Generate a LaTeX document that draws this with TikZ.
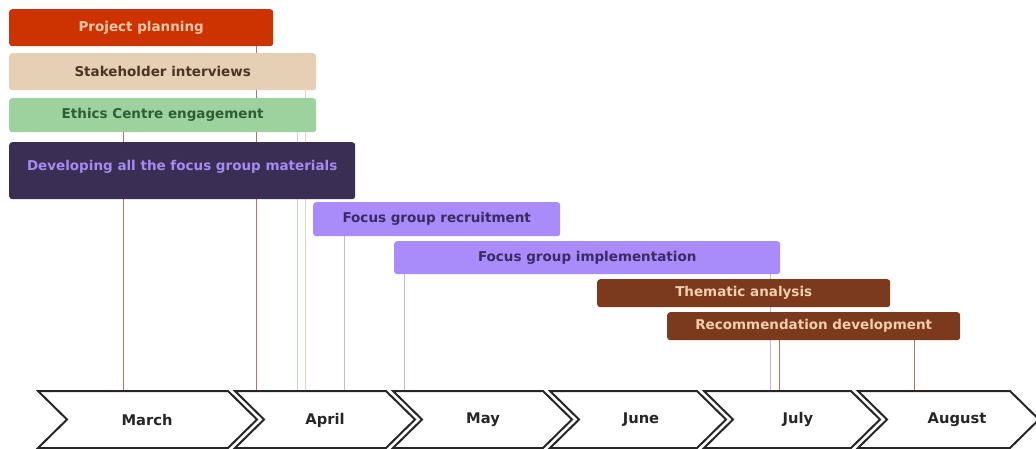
\documentclass[tikz,border=0pt]{standalone}
\usepackage{fontspec}
\setmainfont{DejaVu Sans}
\usetikzlibrary{backgrounds}

\definecolor{planfill}{HTML}{CC3300}
\definecolor{planfg}{HTML}{F6C7A6}
\definecolor{stakefill}{HTML}{E5D0B6}
\definecolor{stakefg}{HTML}{4A3522}
\definecolor{ethicsfill}{HTML}{9DD19E}
\definecolor{ethicsfg}{HTML}{2E5E38}
\definecolor{devfill}{HTML}{3A2E55}
\definecolor{devfg}{HTML}{A58BF0}
\definecolor{focusfill}{HTML}{A98BFA}
\definecolor{focusfg}{HTML}{3B2A63}
\definecolor{analysisfill}{HTML}{7B3A1D}
\definecolor{analysisfg}{HTML}{F2CDAE}
\definecolor{linkbrown}{HTML}{B07560}
\definecolor{linkgreen}{HTML}{BFDCC3}
\definecolor{linkbeige}{HTML}{E2D4C2}
\definecolor{linklav}{HTML}{C4B4F4}

\tikzset{
  bar/.style={rounded corners=3pt, inner sep=0pt, anchor=north west,
    font=\bfseries\fontsize{13.5}{16}\selectfont},
  link/.style={line width=0.9pt},
  chevron/.style={line width=2pt, draw=black!85, fill=white, line join=miter},
  month/.style={font=\bfseries\fontsize{14.7}{17}\selectfont, text=black!85}
}

\begin{document}
\begin{tikzpicture}[x=1pt, y=-1pt]
\useasboundingbox (0,0) rectangle (1036,449);

% Task bars
\node[bar, fill=planfill, text=planfg, minimum width=264pt, minimum height=37pt] (plan) at (9,9) {Project planning};
\node[bar, fill=stakefill, text=stakefg, minimum width=307pt, minimum height=37pt] (stake) at (9,53) {Stakeholder interviews};
\node[bar, fill=ethicsfill, text=ethicsfg, minimum width=307pt, minimum height=34pt] (ethics) at (9,98) {Ethics Centre engagement};
\node[bar, fill=devfill, text=devfg, minimum width=346pt, minimum height=57pt, text depth=11pt] (dev) at (9,142) {Developing all the focus group materials};
\node[bar, fill=focusfill, text=focusfg, minimum width=247pt, minimum height=34pt] (recruit) at (313,202) {Focus group recruitment};
\node[bar, fill=focusfill, text=focusfg, minimum width=386pt, minimum height=33pt] (impl) at (394,241) {Focus group implementation};
\node[bar, fill=analysisfill, text=analysisfg, minimum width=293pt, minimum height=28pt] (thematic) at (597,279) {Thematic analysis};
\node[bar, fill=analysisfill, text=analysisfg, minimum width=293pt, minimum height=28pt] (recommend) at (667,312) {Recommendation development};

% Timeline
\coordinate (axis) at (0,391);
\foreach \L/\R/\c/\m in {38/228/147/March, 235/386/325/April, 393/543/483/May, 550/697/641/June, 704/851/798/July, 858/1010/957/August}{
  \draw[chevron] (\L,391) -- (\R,391) -- (\R+29,419.5) -- (\R,448) -- (\L,448) -- (\L+29,419.5) -- cycle;
  \node[month] (m-\m) at (\c,420) {\m};
}

% Date links
\begin{scope}[on background layer]
\draw[link, linkbrown] (123,0 |- ethics.south) -- (123,0 |- axis);
\draw[link, linkbrown] (256,0 |- plan.south) -- (256,0 |- axis);
\draw[link, linkgreen] (297,0 |- ethics.south) -- (297,0 |- axis);
\draw[link, linkbeige] (305,0 |- stake.south) -- (305,0 |- axis);
\draw[link, linklav] (344,0 |- recruit.south) -- (344,0 |- axis);
\draw[link, linklav] (404,0 |- impl.south) -- (404,0 |- axis);
\draw[link, linklav] (770,0 |- impl.south) -- (770,0 |- axis);
\draw[link, linkbrown] (779,0 |- recommend.south) -- (779,0 |- axis);
\draw[link, linkbrown] (914,0 |- recommend.south) -- (914,0 |- axis);
\end{scope}
\end{tikzpicture}
\end{document}
